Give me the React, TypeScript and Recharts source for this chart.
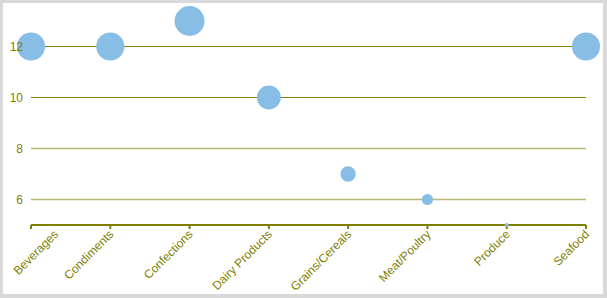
import React from 'react';
import { ScatterChart, Scatter, XAxis, YAxis, ZAxis, CartesianGrid } from 'recharts';

// product count per category
const categories = [
  'Beverages',
  'Condiments',
  'Confections',
  'Dairy Products',
  'Grains/Cereals',
  'Meat/Poultry',
  'Produce',
  'Seafood',
];
const productCounts = [12, 12, 13, 10, 7, 6, 5, 12];
const yTicks = [6, 8, 10, 12];

const OLIVE = '#808000';
const BUBBLE = '#88bde6';
const FONT = "'Liberation Sans', Arial, sans-serif";

const data = categories.map((name, i) => ({ name, count: productCounts[i], size: productCounts[i] }));

function AngledTick(props: any) {
  const { x, y, payload, index } = props;
  const label = String(payload.value);
  // keep the first label inside the frame
  const approxW = label.length * 6.6 * Math.SQRT1_2;
  let shift = 0;
  if (index === 0 && x - approxW < 10) shift = 10 - (x - approxW);
  return (
    <g transform={`translate(${x + 4 + shift},${y + 4})`}>
      <text x={0} y={0} textAnchor="end" fill={OLIVE} fontSize={12} fontFamily={FONT} transform="rotate(-45)">
        {label}
      </text>
    </g>
  );
}

// the lower grid lines look softer in the original (half-pixel lines)
function GridLine(props: any) {
  const { x1, x2, y1, y2 } = props;
  const soft = y1 > 120;
  return (
    <line
      x1={x1}
      x2={x2}
      y1={y1}
      y2={y2}
      stroke={soft ? '#b8b870' : OLIVE}
      strokeWidth={soft ? 1.5 : 1}
      fill="none"
    />
  );
}

export default function App() {
  return (
    <div style={{ position: 'absolute', left: 0, top: 0, width: 607, height: 298, background: '#d9d9d9' }}>
      <div style={{ position: 'absolute', left: 3, top: 3, width: 600, height: 291, background: '#fff' }}>
        <ScatterChart width={600} height={291} margin={{ top: 18, right: 17, bottom: 0, left: 0 }}>
          <CartesianGrid vertical={false} horizontal={GridLine} horizontalValues={yTicks} />
          <YAxis
            dataKey="count"
            type="number"
            domain={[5, 13]}
            ticks={yTicks}
            width={28}
            axisLine={false}
            tickLine={false}
            tick={{ fill: OLIVE, fontSize: 12, fontFamily: FONT }}
          />
          <XAxis
            dataKey="name"
            type="category"
            scale="point"
            allowDuplicatedCategory={false}
            height={69}
            stroke={OLIVE}
            strokeWidth={2}
            tickSize={4}
            tick={<AngledTick />}
            interval={0}
          />
          <ZAxis dataKey="size" type="number" domain={[5, 13]} range={[12, 707]} />
          <Scatter data={data} fill={BUBBLE} isAnimationActive={false} />
        </ScatterChart>
      </div>
    </div>
  );
}
